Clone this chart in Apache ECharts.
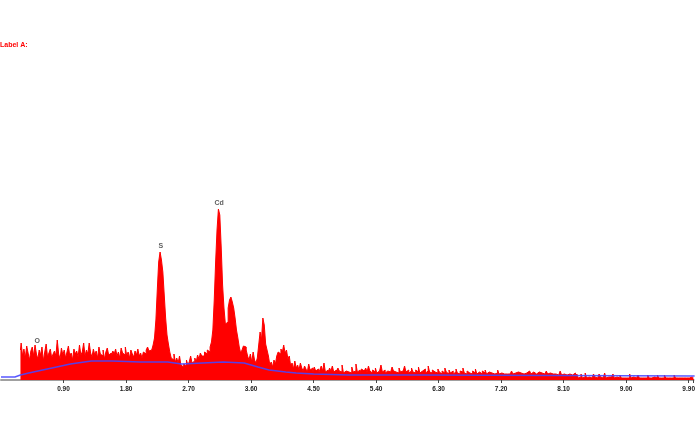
<!DOCTYPE html>
<html>
<head>
<meta charset="utf-8">
<title>EDS spectrum</title>
<script src="https://cdn.jsdelivr.net/npm/echarts@6/dist/echarts.min.js"></script>
<style>
	html, body { margin: 0; padding: 0; background: #fff; }
	#chart { width: 698px; height: 421px; }
</style>
</head>
<body>
<div id="chart"></div>
<script>
'use strict';

// channel calibration (keV)
var startEnergy = 0.28;
var channelWidth = 0.02;

// counts per channel, one row = 0.5 keV
var counts = [
	30,37,24,31,22,34,27,20,29,33,24,35,26,21,30,25,33,19,28,36,23,27,31,22,26,
	29,24,40,26,21,32,25,30,22,28,34,24,27,20,31,26,29,23,35,25,28,37,24,30,26,
	37,27,23,31,25,29,22,33,26,24,30,21,28,32,25,27,23,29,26,31,24,28,22,32,27,
	25,33,24,28,22,30,26,23,29,25,31,24,27,22,28,26,30,33,29,30,28,35,42,60,90,
	118,128,120,108,85,62,45,36,28,22,20,26,18,22,17,24,15,13,16,14,20,15,18,24,17,
	19,22,18,25,21,27,24,24,28,26,30,28,33,38,50,80,118,150,171,165,133,95,72,56,58,
	72,80,83,78,72,62,50,42,33,27,30,34,33,30,24,20,26,18,28,20,17,22,35,48,40,
	62,55,36,30,24,15,18,13,20,16,24,28,26,31,28,35,27,30,21,24,14,17,11,19,12,
	15,10,17,12,9,14,11,8,16,10,12,8,13,9,11,7,10,14,9,17,8,10,7,12,9,
	14,8,10,7,12,9,8,15,7,9,11,8,10,7,13,8,9,16,8,10,7,11,9,8,12,
	8,14,9,7,10,8,12,7,9,8,15,8,10,7,9,11,8,7,13,9,8,10,7,12,8,
	9,7,14,8,10,7,9,12,8,7,10,8,13,7,9,8,11,7,9,14,8,7,10,8,9,
	7,11,8,6,9,7,12,8,6,10,7,9,6,8,11,7,6,9,8,12,7,6,9,7,8,
	6,9,7,11,6,8,7,6,9,7,10,6,8,6,7,9,6,8,7,10,6,7,9,6,8,
	6,8,6,7,9,6,7,5,8,6,7,9,6,8,7,6,9,7,6,8,10,6,7,8,6,
	7,8,6,7,9,6,7,8,6,7,6,8,5,7,9,5,6,8,5,7,6,8,5,6,7,
	3,6,2,3,6,2,3,7,2,3,5,2,2,6,3,2,2,6,3,2,3,7,2,3,2,
	3,2,6,2,3,2,2,5,2,2,3,2,2,2,6,2,3,2,2,2,5,2,2,3,2,
	2,2,5,2,2,2,3,2,2,5,2,2,2,2,5,2,2,3,2,2,2,5,2,2,2,
	2,2,2,4,2,2,2,2,3,2,2
];

// fitted background
var bgEnergy = [0, 0.2, 0.22, 0.28, 0.4, 0.6, 0.8, 1.0, 1.2, 1.3, 1.6, 2.0, 2.4, 2.6, 2.75, 2.9, 3.2, 3.5, 3.7, 3.86, 4.1, 4.25, 4.5, 5.0, 6.0, 8.0, 9.986];
var bgCounts = [3, 3, 5, 5, 7, 10, 13, 16, 18, 19, 19, 18, 18, 16, 16.5, 17, 18, 17, 13, 10, 8, 7, 6, 5, 5, 4.5, 4];

// peak labels
var peakNames = ['O', 'S', 'Cd'];
var peakEnergy = [0.52, 2.30, 3.14];
var peakCounts = [33, 128, 171];

var xMax = 9.97;
var tickStep = 0.9;

var spectrum = counts.map(function(c, i){
	return [+(startEnergy + i * channelWidth).toFixed(2), c];
});
var background = bgEnergy.map(function(e, i){ return [e, bgCounts[i]]; });
var peaks = peakNames.map(function(n, i){
	return { name: n, value: [peakEnergy[i], peakCounts[i]] };
});

var chart = echarts.init(document.getElementById('chart'));
chart.setOption({
	animation: false,
	backgroundColor: '#ffffff',
	title: {
		text: 'Label A:',
		left: 0,
		top: 42,
		padding: 0,
		textStyle: { fontSize: 7, fontWeight: 'bold', color: '#ff0000', fontFamily: 'Liberation Sans' }
	},
	grid: { left: 1, right: 0, top: 80, bottom: 41, containLabel: false },
	xAxis: {
		type: 'value',
		min: 0,
		max: xMax,
		interval: tickStep,
		splitLine: { show: false },
		axisLine: { show: true, lineStyle: { color: '#a0a0a0', width: 2 } },
		axisTick: { show: true, length: 3, lineStyle: { color: '#444' } },
		axisLabel: {
			margin: 6,
			fontSize: 6.5,
			fontWeight: 'bold',
			color: '#222',
			fontFamily: 'Liberation Sans',
			showMinLabel: false,
			formatter: function(v){
				var k = v / tickStep;
				if (v === 0 || Math.abs(k - Math.round(k)) > 1e-6) return '';
				return v.toFixed(2);
			}
		}
	},
	yAxis: { type: 'value', min: 0, max: 300, show: false, splitLine: { show: false } },
	series: [
		{
			type: 'line',
			data: spectrum,
			symbol: 'none',
			step: 'middle',
			lineStyle: { color: '#ff0000', width: 1 },
			areaStyle: { color: '#ff0000', opacity: 1 },
			z: 2
		},
		{
			type: 'line',
			data: background,
			symbol: 'none',
			lineStyle: { color: 'rgba(70,70,255,0.9)', width: 1.5 },
			z: 3
		},
		{
			type: 'scatter',
			data: peaks,
			symbolSize: 0,
			label: {
				show: true,
				position: 'top',
				distance: 2,
				formatter: '{b}',
				fontSize: 7,
				fontWeight: 'bold',
				color: '#333',
				fontFamily: 'Liberation Sans'
			},
			z: 4
		}
	]
});
</script>
</body>
</html>
